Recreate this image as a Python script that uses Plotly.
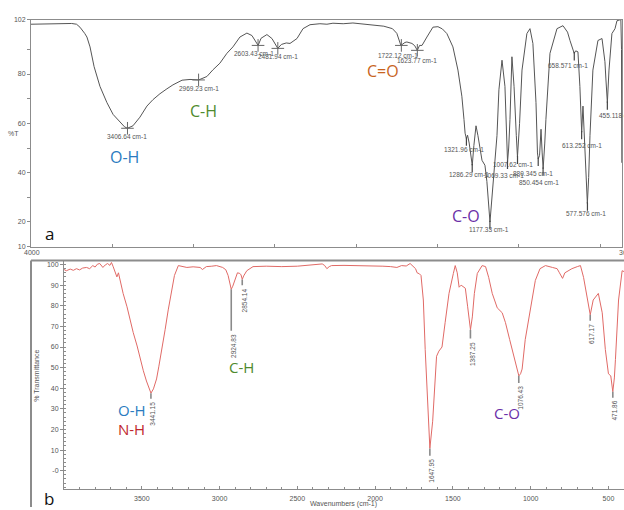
import plotly.graph_objects as go

# ---------------- spectrum (a): wavenumber (cm-1) vs %T ----------------
wn_a = [4000, 3900, 3800, 3750, 3720, 3699, 3670, 3656, 3637, 3612, 3576, 3533, 3495,
        3453, 3425, 3407, 3373, 3330, 3287, 3250, 3207, 3164, 3127, 3071, 3022, 2969,
        2918, 2881, 2838, 2795, 2758, 2715, 2672, 2641, 2620, 2603, 2585, 2549, 2518,
        2495, 2482, 2460, 2430, 2407, 2380, 2364, 2327, 2284, 2223, 2180, 2143, 2080,
        2020, 1960, 1897, 1830, 1777, 1750, 1725, 1700, 1688, 1657, 1640, 1624, 1610,
        1595, 1565, 1528, 1497, 1470, 1442, 1405, 1374, 1350, 1337, 1330, 1322, 1315,
        1305, 1286, 1276, 1263, 1251, 1226, 1208, 1196, 1177, 1159, 1134, 1122, 1103,
        1085, 1073, 1069, 1062, 1054, 1042, 1029, 1015, 1008, 995, 980, 950, 931, 913,
        894, 885, 880, 872, 863, 856, 850, 840, 833, 808, 765, 728, 700, 685, 659, 650,
        636, 624, 613, 605, 593, 578, 570, 562, 544, 513, 488, 470, 464, 455, 445, 427,
        408, 396, 377, 372, 368, 366]
t_a = [100.2, 100.4, 100.6, 100.5, 100.2, 99.0, 96.5, 95.0, 91.0, 83.0, 75.0, 68.4, 63.6,
       60.4, 58.6, 58.0, 59.0, 62.5, 67.0, 69.6, 72.0, 74.0, 75.6, 77.5, 77.8, 77.6,
       79.0, 81.7, 84.4, 88.4, 91.0, 95.0, 96.6, 95.6, 93.5, 91.6, 94.5, 96.0, 94.4,
       91.5, 90.4, 92.0, 92.6, 92.4, 93.5, 94.4, 98.4, 100.0, 100.4, 100.2, 100.6, 100.4,
       100.7, 100.3, 100.0, 99.4, 98.4, 96.5, 91.6, 92.8, 93.0, 92.4, 91.5, 89.6, 91.6,
       91.6, 95.0, 99.0, 99.2, 98.3, 96.4, 91.0, 81.6, 71.0, 61.6, 56.0, 53.8, 55.2,
       52.0, 43.0, 51.0, 59.0, 55.0, 45.0, 43.0, 36.4, 20.0, 35.0, 55.0, 73.6, 85.6,
       75.0, 55.0, 44.4, 50.0, 61.6, 87.0, 75.0, 55.0, 46.4, 60.0, 81.6, 96.4, 98.4, 92.4,
       68.4, 48.0, 45.6, 47.0, 57.6, 48.0, 41.6, 52.0, 61.6, 88.4, 98.4, 99.6, 97.0, 93.6,
       88.4, 89.4, 89.0, 75.0, 56.4, 67.0, 48.4, 27.5, 38.0, 55.0, 81.6, 93.6, 94.4, 85.0,
       78.0, 68.4, 81.6, 96.4, 98.4, 101.6, 102.0, 102.0, 90.0, 44.0]

# labelled peaks of (a): wavenumber, %T at the peak
peaks_a = [3406.64, 2969.23, 2603.43, 2481.94, 1722.12, 1623.77, 1321.96, 1286.29,
           1177.33, 1069.33, 1007.62, 880.345, 850.454, 658.571, 613.252, 577.576, 455.118]
peaks_a_t = [58.0, 77.6, 91.6, 90.4, 91.6, 89.6, 53.8, 43.0,
             20.0, 44.4, 46.4, 45.6, 41.6, 88.4, 56.4, 27.5, 68.4]
# label anchor points (wavenumber, %T) for each peak caption
peaks_a_lx = [3410, 2967, 2630, 2478, 1742, 1626, 1338, 1305,
              1180, 1093, 1036, 912, 875, 696, 614, 584, 382]
peaks_a_ly = [54.8, 74.0, 88.4, 87.0, 87.6, 85.6, 49.2, 39.2,
              16.8, 38.8, 43.2, 39.6, 36.0, 83.6, 51.2, 23.6, 63.0]

# ---------------- spectrum (b): wavenumber (cm-1) vs % transmittance ----------------
wn_b = [4000, 3985, 3960, 3940, 3920, 3900, 3880, 3855, 3835, 3815, 3800, 3785, 3770,
        3750, 3735, 3720, 3705, 3695, 3685, 3675, 3660, 3650, 3635, 3620, 3595, 3575,
        3555, 3530, 3510, 3490, 3470, 3450, 3441, 3425, 3405, 3390, 3370, 3350, 3330,
        3310, 3290, 3265, 3240, 3210, 3170, 3125, 3110, 3085, 3050, 3020, 2980, 2960,
        2945, 2935, 2925, 2915, 2905, 2885, 2870, 2862, 2854, 2845, 2825, 2785, 2700,
        2600, 2500, 2400, 2340, 2325, 2310, 2295, 2280, 2200, 2100, 2050, 1950, 1900,
        1860, 1830, 1800, 1775, 1765, 1755, 1740, 1730, 1715, 1705, 1690, 1678, 1665,
        1648, 1630, 1615, 1605, 1590, 1570, 1550, 1525, 1497, 1485, 1472, 1460, 1447,
        1433, 1420, 1405, 1395, 1387, 1375, 1362, 1343, 1312, 1290, 1270, 1247, 1215,
        1183, 1162, 1135, 1110, 1085, 1076, 1065, 1055, 1035, 1000, 970, 940, 905, 860,
        830, 815, 795, 780, 735, 700, 680, 660, 635, 617, 598, 580, 565, 540, 520, 500,
        485, 472, 462, 455, 435, 412, 400]
t_b = [97.6, 97.0, 97.8, 97.2, 98.0, 97.4, 98.3, 98.6, 98.0, 99.5, 98.8, 100.2, 100.5,
       98.6, 99.8, 100.5, 99.6, 101.0, 99.2, 97.0, 94.0, 96.0, 91.0, 86.0, 79.5, 73.0,
       67.0, 60.5, 54.0, 48.5, 43.5, 39.7, 37.6, 39.7, 44.5, 50.7, 58.8, 68.4, 78.0,
       87.5, 94.7, 99.5, 99.0, 98.6, 98.9, 98.6, 97.6, 99.0, 99.2, 99.5, 98.6, 97.5,
       94.7, 91.0, 88.0, 89.5, 92.0, 96.0, 95.7, 95.0, 92.8, 94.5, 97.0, 99.0, 99.2,
       99.0, 99.2, 100.0, 100.3, 99.6, 98.0, 99.0, 99.5, 99.6, 99.5, 99.6, 99.2, 99.0,
       98.6, 99.5, 99.3, 100.5, 99.8, 99.5, 98.0, 96.0, 95.5, 94.7, 82.8, 58.8, 35.0,
       10.8, 24.0, 43.0, 55.5, 58.0, 60.0, 71.8, 86.0, 95.7, 99.5, 96.0, 89.0, 90.0,
       89.0, 88.5, 79.5, 72.0, 68.4, 74.6, 86.0, 95.7, 99.5, 99.0, 93.8, 86.0, 79.0,
       76.6, 71.8, 63.6, 55.5, 48.3, 46.0, 47.0, 49.3, 63.6, 79.5, 92.3, 98.0, 99.5, 98.6,
       98.0, 96.0, 93.3, 96.0, 98.0, 99.0, 99.5, 93.8, 84.0, 75.6, 82.8, 84.5, 86.0, 76.6,
       58.8, 47.0, 46.0, 38.3, 45.0, 54.0, 82.8, 97.0, 96.6]

# labelled peaks of (b): wavenumber, %T at the peak, and where the stem ends
peaks_b = [3441.15, 2924.83, 2854.14, 1647.95, 1387.25, 1076.43, 617.17, 471.86]
peaks_b_t = [37.6, 88.0, 92.8, 10.8, 68.4, 46.0, 75.6, 38.3]
peaks_b_end = [34.9, 67.9, 90.0, 7.2, 64.1, 42.6, 72.7, 35.4]

# functional-group captions: text, colour, wavenumber, %T
groups_a = [("O-H", "#2a7bc0", 3422, 46.4), ("C-H", "#4f8a2d", 2942, 65.2),
            ("C=O", "#c8641e", 1835, 81.2), ("C-O", "#6b2fa8", 1325, 22.4)]
groups_b = [("O-H", "#2a7bc0", 3564, 29.4), ("N-H", "#c0272d", 3564, 20.4),
            ("C-H", "#4f8a2d", 2856, 50.2), ("C-O", "#6b2fa8", 1150, 27.8)]

W, H = 624, 510
TICK_FONT = dict(family="Liberation Sans", size=7, color="#555")
PEAK_FONT = dict(family="Liberation Sans", size=6.5, color="#555")
GROUP_FONT = "Open Sans"


def px(x):
    return x / W


def py(y):
    return 1 - y / H


def paper_text(x, y, text, font, angle=0, xanchor="center"):
    return dict(x=px(x), y=py(y), xref="paper", yref="paper", text=text,
                textangle=angle, showarrow=False, font=font,
                xanchor=xanchor, yanchor="middle")


fig = go.Figure()

# spectrum (a)
fig.add_trace(go.Scatter(x=wn_a, y=t_a, mode="lines", xaxis="x", yaxis="y",
                         line=dict(color="#555555", width=1), hoverinfo="skip"))
broad = {3406.64, 2969.23, 2603.43, 2481.94, 1722.12, 1623.77}
fig.add_trace(go.Scatter(
    x=[w for w in peaks_a if w in broad],
    y=[t for w, t in zip(peaks_a, peaks_a_t) if w in broad],
    mode="markers", xaxis="x", yaxis="y",
    marker=dict(symbol="cross-thin", size=9, line=dict(color="#666", width=1)),
    hoverinfo="skip"))
fig.add_trace(go.Scatter(
    x=[w for w in peaks_a if w not in broad],
    y=[t - 1.2 for w, t in zip(peaks_a, peaks_a_t) if w not in broad],
    mode="markers", xaxis="x", yaxis="y",
    marker=dict(symbol="line-ns", size=6, line=dict(color="#444", width=1.2)),
    hoverinfo="skip"))

# spectrum (b)
fig.add_trace(go.Scatter(x=wn_b, y=t_b, mode="lines", xaxis="x2", yaxis="y2",
                         line=dict(color="#e06a66", width=1), hoverinfo="skip"))
stem_x, stem_y = [], []
for w, t0, t1 in zip(peaks_b, peaks_b_t, peaks_b_end):
    stem_x += [w, w, None]
    stem_y += [t0, t1, None]
fig.add_trace(go.Scatter(x=stem_x, y=stem_y, mode="lines", xaxis="x2", yaxis="y2",
                         line=dict(color="#8a8a8a", width=1.6), hoverinfo="skip"))

ann = []
for w, lx, ly in zip(peaks_a, peaks_a_lx, peaks_a_ly):
    ann.append(dict(x=lx, y=ly, xref="x", yref="y", text=f"{w:g} cm-1",
                    showarrow=False, font=PEAK_FONT, xanchor="center", yanchor="middle"))
for w, t1 in zip(peaks_b, peaks_b_end):
    ann.append(dict(x=w, y=t1, xref="x2", yref="y2", text=f"{w:.2f}", textangle=-90,
                    showarrow=False, font=PEAK_FONT, xanchor="center", yanchor="top",
                    xshift=2, yshift=-1))
for txt, col, w, t in groups_a:
    ann.append(dict(x=w, y=t, xref="x", yref="y", text=txt, showarrow=False,
                    xanchor="center", yanchor="middle",
                    font=dict(family=GROUP_FONT, size=16, color=col)))
for txt, col, w, t in groups_b:
    ann.append(dict(x=w, y=t, xref="x2", yref="y2", text=txt, showarrow=False,
                    xanchor="center", yanchor="middle",
                    font=dict(family=GROUP_FONT, size=15, color=col)))

# panel letters, axis titles and end labels
letter_font = dict(family="Open Sans", size=17, color="#111")
ann += [
    paper_text(49, 233, "a", letter_font),
    paper_text(49, 501, "b", letter_font),
    paper_text(13, 131, "%T", TICK_FONT),
    paper_text(32, 252, "4000", TICK_FONT),
    paper_text(617, 252, "360", TICK_FONT, xanchor="left"),
    paper_text(37, 377, "% Transmittance", TICK_FONT, angle=-90),
    paper_text(343, 507, "Wavenumbers (cm-1)", TICK_FONT),
]

axis_common = dict(showgrid=False, zeroline=False, linecolor="#8c8c8c", linewidth=1,
                   tickcolor="#8c8c8c", tickfont=TICK_FONT)

fig.update_layout(
    width=W, height=H, margin=dict(l=0, r=0, t=0, b=0),
    paper_bgcolor="white", plot_bgcolor="white", showlegend=False,
    xaxis=dict(domain=[px(31), px(622)], range=[4000, 365], anchor="y",
               showline=True, mirror=True, ticks="inside", ticklen=3,
               tickvals=[3500, 3000, 2500, 2000, 1500, 1000, 500],
               showticklabels=False, **axis_common),
    yaxis=dict(domain=[py(246), py(16)], range=[10, 102], anchor="x",
               showline=True, mirror=True, ticks="outside", ticklen=3,
               tickvals=[10, 20, 30, 40, 50, 60, 70, 80, 90, 102],
               ticktext=["10", "20", "", "40", "", "60", "", "80", "", "102"],
               **axis_common),
    xaxis2=dict(domain=[px(64), 1.0], range=[4000, 400], anchor="y2",
                showline=True, ticks="inside", ticklen=3, ticklabelstandoff=2,
                tickvals=[3500, 3000, 2500, 2000, 1500, 1000, 500],
                minor=dict(tickmode="linear", tick0=0, dtick=100, ticks="inside",
                           ticklen=2, tickcolor="#8c8c8c"),
                **axis_common),
    yaxis2=dict(domain=[py(492), py(260)], range=[-9, 102], anchor="x2",
                showline=True, ticks="outside", ticklen=3,
                tickvals=[0, 10, 20, 30, 40, 50, 60, 70, 80, 90, 100],
                ticktext=["-0", "10", "20", "30", "40", "50", "60", "70", "80", "90", "100"],
                minor=dict(tickmode="linear", tick0=0, dtick=2, ticks="inside",
                           ticklen=2, tickcolor="#8c8c8c"),
                **axis_common),
    annotations=ann,
    shapes=[
        dict(type="line", xref="paper", yref="paper", x0=px(31), x1=1.0,
             y0=py(260), y1=py(260), line=dict(color="#8c8c8c", width=2)),
        dict(type="line", xref="paper", yref="paper", x0=px(31), x1=px(31),
             y0=py(260), y1=0, line=dict(color="#8c8c8c", width=2)),
    ],
)

fig.write_html("out.html")
